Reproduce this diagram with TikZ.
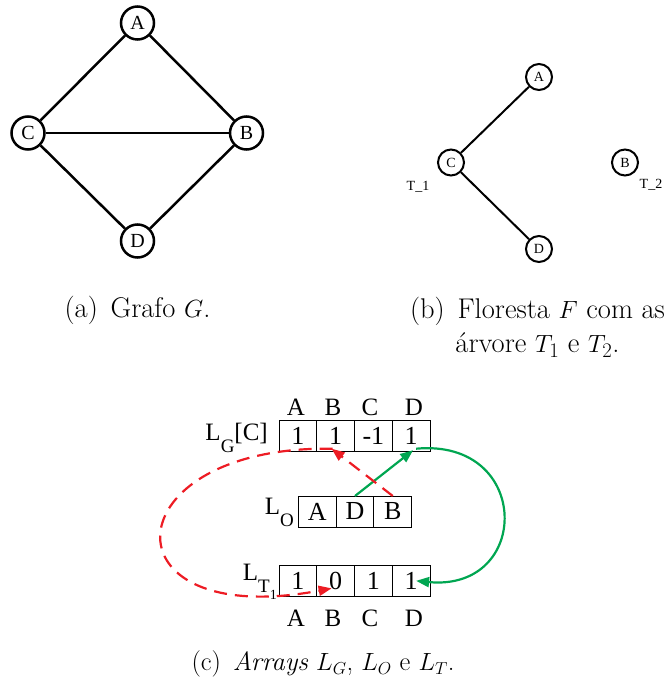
\documentclass[tikz,border=0pt]{standalone}
\usepackage{fontspec}
\newfontfamily\tms{Liberation Serif}
\usetikzlibrary{arrows.meta,calc}
\definecolor{myred}{RGB}{237,28,36}
\definecolor{mygreen}{RGB}{0,166,81}
\tikzset{
  gnode/.style={circle,draw,line width=2.5pt,minimum size=33pt,inner sep=0pt,font=\fontsize{20}{22}\tms},
  fnode/.style={circle,draw,line width=2pt,minimum size=26pt,inner sep=0pt,font=\fontsize{14}{16}\tms},
  gedge/.style={line width=2.5pt},
  fedge/.style={line width=2pt},
  smalllab/.style={inner sep=0pt,font=\fontsize{14}{16}\tms},
  cell/.style={draw,line width=0.9pt,minimum width=37.75pt,minimum height=31pt,inner sep=0pt,outer sep=0pt,font=\fontsize{26}{28}\tms},
  arrtxt/.style={inner sep=0pt,font=\fontsize{25}{28}\tms},
  capt/.style={inner sep=0pt,font=\fontsize{28.5}{34}\selectfont,align=center},
  greenarr/.style={draw=mygreen,line width=2.2pt,-{Triangle[length=13pt,width=10pt]},fill=none},
  redarr/.style={draw=myred,line width=2.2pt,dash pattern=on 13pt off 8pt,-{Triangle[length=13pt,width=10pt]}},
}
\newcommand{\subfs}[1]{{\fontsize{19}{20}\selectfont #1}}
\newcommand{\subsubfs}[1]{{\fontsize{14}{15}\selectfont #1}}
\begin{document}
\begin{tikzpicture}[x=1pt,y=-1pt]
\useasboundingbox (0,0) rectangle (665,684);
% (a) graph
\node[gnode] (A) at (137.5,23) {A};
\node[gnode] (C) at (28,133) {C};
\node[gnode] (B) at (246.5,133) {B};
\node[gnode] (D) at (137.5,241) {D};
\draw[gedge] (A) -- (C);
\draw[gedge] (A) -- (B);
\draw[gedge] (C) -- (B);
\draw[gedge] (C) -- (D);
\draw[gedge] (B) -- (D);
% (b) forest
\node[fnode] (fA) at (539,77) {A};
\node[fnode] (fC) at (451,162.5) {C};
\node[fnode] (fD) at (539,249) {D};
\node[fnode] (fB) at (625,162.5) {B};
\draw[fedge] (fC) -- (fA);
\draw[fedge] (fC) -- (fD);
\node[smalllab] (t1) at (418,187) {T\_1};
\node[smalllab] (t2) at (651,185) {T\_2};
% captions
\node[capt] (capa) at (137.5,310) {(a)\hspace{0.45em}Grafo $G$.};
\node[capt,anchor=north] (capb) at (537.5,297) {(b)\hspace{0.45em}Floresta $F$ com as\\\'arvore $T_1$ e $T_2$.};
\node[capt,font=\fontsize{26.5}{32}\selectfont] (capc) at (323,664) {(c)\hspace{0.45em}\textit{Arrays} $L_G$, $L_O$ e $L_T$.};
% (c) arrays
\foreach \i/\x/\v in {1/297.875/1,2/335.625/1,3/373.375/-1,4/411.125/1}{
  \node[cell] (lg\i) at (\x,436.2) {\v};
}
\foreach \i/\x/\v in {1/297.875/1,2/335.625/0,3/373.375/1,4/411.125/1}{
  \node[cell] (lt\i) at (\x,580.85) {\v};
}
\foreach \i/\x/\v in {1/317.2/A,2/355/D,3/392.8/B}{
  \node[cell,minimum width=37.8pt] (lo\i) at (\x,511.5) {\v};
}
\foreach \i/\x/\v in {1/296/A,2/333/B,3/370/C,4/414/D}{
  \node[arrtxt] (ht\i) at (\x,407) {\v};
  \node[arrtxt] (hb\i) at (\x,618) {\v};
}
\node[arrtxt,anchor=base east] (lgl) at (268,440) {L\raisebox{-12pt}{\subfs{G}}[C]};
\node[arrtxt,anchor=base east] (lol) at (294,514) {L\raisebox{-12pt}{\subfs{O}}};
\node[arrtxt,anchor=base east] (ltl) at (277,580) {L\raisebox{-12pt}{\subfs{T}\raisebox{-7pt}{\subsubfs{1}}}};
% arrows
\draw[greenarr] (lo2.north) -- ($(lg4.south)+(2,-1.5)$);
\draw[greenarr] ($(lg4.south)+(5,-3)$) .. controls (532,438) and (532,592) .. ($(lt4.center)+(5,0)$);
\draw[redarr] (lo3.north) -- ($(lg2.south)+(-4,-3)$);
\draw[redarr] ($(lg2.south)+(-3,-3)$) .. controls (110,445) and (100,632) .. ($(lt2.south)+(-4,-8)$);
\end{tikzpicture}
\end{document}
